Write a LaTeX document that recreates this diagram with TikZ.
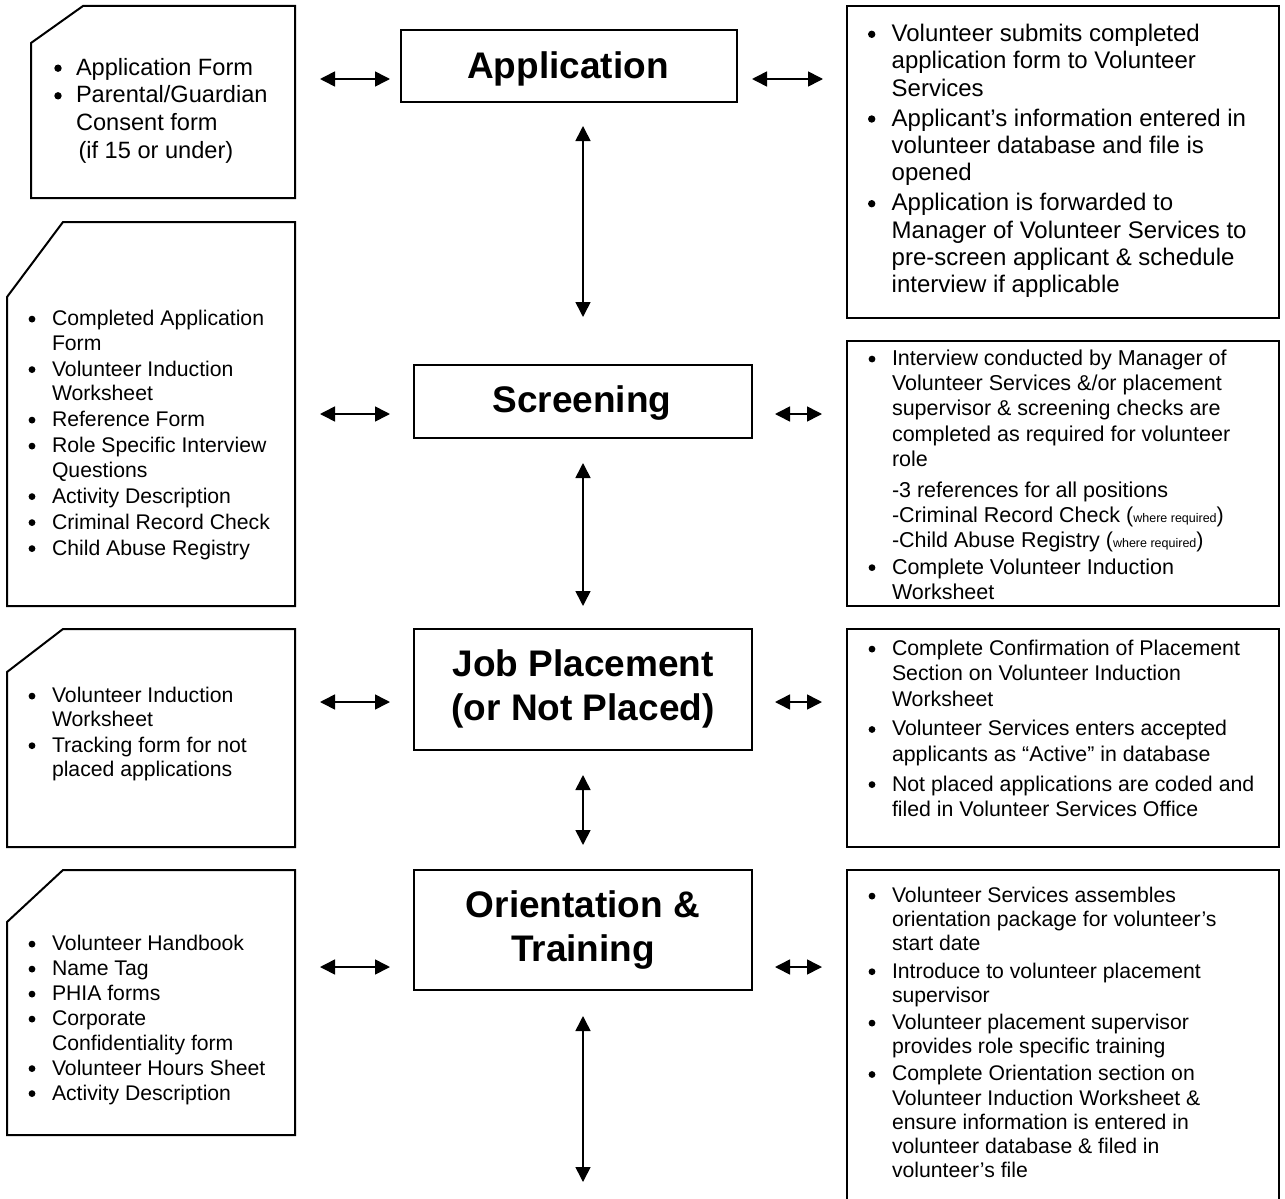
\documentclass[tikz,border=0pt]{standalone}
\usepackage{fontspec}
\setmainfont{Liberation Sans}
\usetikzlibrary{arrows.meta}
\newcommand{\smtxt}[1]{{\fontsize{12.5}{12.5}\selectfont #1}}
\begin{document}
\begin{tikzpicture}[x=1pt,y=-1pt,
  >={Triangle[length=15pt,width=15pt]},
  boxline/.style={draw,line width=2pt,line join=miter},
  stagebox/.style={draw,line width=2pt,inner sep=0pt,outer sep=0pt},
  stagetext/.style={inner sep=0pt,outer sep=0pt,anchor=base,font=\fontsize{37}{44}\selectfont\bfseries},
  listtext/.style={inner sep=0pt,outer sep=0pt,anchor=base west},
  bulletdot/.style={fill=black},
  biarrow/.style={line width=1.6pt,<->}]
\fill[white] (0,0) rectangle (1285,1199);
\path[use as bounding box] (0,0) rectangle (1285,1199);

% ---------- left document boxes ----------
\draw[boxline] (31,43) -- (83,6) -- (295,6) -- (295,198) -- (31,198) -- cycle;
\draw[boxline] (7,297) -- (63,222) -- (295,222) -- (295,606) -- (7,606) -- cycle;
\draw[boxline] (7,672) -- (63,629) -- (295,629) -- (295,847) -- (7,847) -- cycle;
\draw[boxline] (7,922) -- (63,870) -- (295,870) -- (295,1135) -- (7,1135) -- cycle;

% ---------- right description boxes ----------
\draw[boxline] (847,6) rectangle (1279,318);
\draw[boxline] (847,341) rectangle (1279,606);
\draw[boxline] (847,629) rectangle (1279,847);
\draw[boxline] (847,1215) -- (847,870) -- (1279,870) -- (1279,1215);

% ---------- stage boxes ----------
\node[stagebox,minimum width=336pt,minimum height=72pt] (app) at (569,66) {};
\node[stagebox,minimum width=338pt,minimum height=73pt] (scr) at (583,401.5) {};
\node[stagebox,minimum width=338pt,minimum height=121pt] (job) at (583,689.5) {};
\node[stagebox,minimum width=338pt,minimum height=120pt] (ori) at (583,930) {};

\node[stagetext] (appT) at (568,78) {Application};
\node[stagetext] (scrT) at (582,412) {Screening};
\node[stagetext] (jobT) at (583,676.5) {\begin{tabular}[t]{@{}c@{}}Job Placement\\(or Not Placed)\end{tabular}};
\node[stagetext] (oriT) at (583,917) {\begin{tabular}[t]{@{}c@{}}Orientation \&\\Training\end{tabular}};

% ---------- left lists ----------
\node[listtext,font=\fontsize{23.6}{27.6}\selectfont] (l1) at (76,75.3) {\begin{tabular}[t]{@{}l@{}}
Application Form\\
Parental/Guardian\\
Consent form\\
\hspace{2.5pt}(if 15 or under)
\end{tabular}};
\foreach \yy in {68.2,95.8} \fill[bulletdot] (58,\yy) circle (3.7pt);

\node[listtext,font=\fontsize{21.2}{24.5}\selectfont] (l2) at (52,325.5) {\begin{tabular}[t]{@{}l@{}}
Completed Application\\
Form\\[1.5pt]
Volunteer Induction\\
Worksheet\\[1.5pt]
Reference Form\\[1.5pt]
Role Specific Interview\\
Questions\\[1.5pt]
Activity Description\\[1.5pt]
Criminal Record Check\\[1.5pt]
Child Abuse Registry
\end{tabular}};
\foreach \yy in {319.1,369.6,420.1,446.1,496.6,522.6,548.6} \fill[bulletdot] (32,\yy) circle (3.4pt);

\node[listtext,font=\fontsize{21.2}{24.3}\selectfont] (l3) at (52,702.5) {\begin{tabular}[t]{@{}l@{}}
Volunteer Induction\\
Worksheet\\[1pt]
Tracking form for not\\
placed applications
\end{tabular}};
\foreach \yy in {696.1,745.7} \fill[bulletdot] (32,\yy) circle (3.4pt);

\node[listtext,font=\fontsize{21.2}{24.5}\selectfont] (l4) at (52,950.5) {\begin{tabular}[t]{@{}l@{}}
Volunteer Handbook\\[0.5pt]
Name Tag\\[0.5pt]
PHIA forms\\[0.5pt]
Corporate\\
Confidentiality form\\[0.5pt]
Volunteer Hours Sheet\\[0.5pt]
Activity Description
\end{tabular}};
\foreach \yy in {944.1,969.1,994.1,1019.1,1068.6,1093.6} \fill[bulletdot] (32,\yy) circle (3.4pt);

% ---------- right lists ----------
\node[listtext,font=\fontsize{24}{27.3}\selectfont] (r1) at (891.7,41.5) {\begin{tabular}[t]{@{}l@{}}
Volunteer submits completed\\
application form to Volunteer\\
Services\\[2.8pt]
Applicant’s information entered in\\
volunteer database and file is\\
opened\\[2.8pt]
Application is forwarded to\\
Manager of Volunteer Services to\\
pre-screen applicant \& schedule\\
interview if applicable
\end{tabular}};
\foreach \yy in {34.3,119.0,203.7} \fill[bulletdot] (871.7,\yy) circle (3.7pt);

\node[listtext,font=\fontsize{21.5}{25.2}\selectfont] (r2) at (892,365.5) {\begin{tabular}[t]{@{}l@{}}
Interview conducted by Manager of\\
Volunteer Services \&/or placement\\
supervisor \& screening checks are\\
completed as required for volunteer\\
role\\[6pt]
-3 references for all positions\\
-Criminal Record Check (\smtxt{where required})\\
-Child Abuse Registry (\smtxt{where required})\\[1pt]
Complete Volunteer Induction\\
Worksheet
\end{tabular}};
\foreach \yy in {359.05,567.65} \fill[bulletdot] (872,\yy) circle (3.4pt);

\node[listtext,font=\fontsize{21.3}{25.3}\selectfont] (r3) at (892,655.5) {\begin{tabular}[t]{@{}l@{}}
Complete Confirmation of Placement\\
Section on Volunteer Induction\\
Worksheet\\[4.5pt]
Volunteer Services enters accepted\\
applicants as “Active” in database\\[4.5pt]
Not placed applications are coded and\\
filed in Volunteer Services Office
\end{tabular}};
\foreach \yy in {649.1,729.5,784.6} \fill[bulletdot] (872,\yy) circle (3.4pt);

\node[listtext,font=\fontsize{21.2}{24.2}\selectfont] (r4) at (892,902.5) {\begin{tabular}[t]{@{}l@{}}
Volunteer Services assembles\\
orientation package for volunteer’s\\
start date\\[3pt]
Introduce to volunteer placement\\
supervisor\\[3pt]
Volunteer placement supervisor\\
provides role specific training\\[3pt]
Complete Orientation section on\\
Volunteer Induction Worksheet \&\\
ensure information is entered in\\
volunteer database \& filed in\\
volunteer’s file
\end{tabular}};
\foreach \yy in {896.1,971.7,1023.1,1074.5} \fill[bulletdot] (872,\yy) circle (3.4pt);

% ---------- arrow end points ----------
\coordinate (h1a) at (320,79);  \coordinate (h1b) at (390,79);
\coordinate (h1c) at (752,79);  \coordinate (h1d) at (823,79);
\coordinate (h2a) at (320,414); \coordinate (h2b) at (390,414);
\coordinate (h2c) at (775,414); \coordinate (h2d) at (822,414);
\coordinate (h3a) at (320,702); \coordinate (h3b) at (390,702);
\coordinate (h3c) at (775,702); \coordinate (h3d) at (822,702);
\coordinate (h4a) at (320,967); \coordinate (h4b) at (390,967);
\coordinate (h4c) at (775,967); \coordinate (h4d) at (822,967);
\coordinate (v1a) at (583,126);  \coordinate (v1b) at (583,317);
\coordinate (v2a) at (583,463);  \coordinate (v2b) at (583,606);
\coordinate (v3a) at (583,775);  \coordinate (v3b) at (583,845);
\coordinate (v4a) at (583,1016); \coordinate (v4b) at (583,1182);

\draw[biarrow] (h1a) -- (h1b);
\draw[biarrow] (h1c) -- (h1d);
\draw[biarrow] (h2a) -- (h2b);
\draw[biarrow] (h2c) -- (h2d);
\draw[biarrow] (h3a) -- (h3b);
\draw[biarrow] (h3c) -- (h3d);
\draw[biarrow] (h4a) -- (h4b);
\draw[biarrow] (h4c) -- (h4d);
\draw[biarrow] (v1a) -- (v1b);
\draw[biarrow] (v2a) -- (v2b);
\draw[biarrow] (v3a) -- (v3b);
\draw[biarrow] (v4a) -- (v4b);
\end{tikzpicture}
\end{document}
